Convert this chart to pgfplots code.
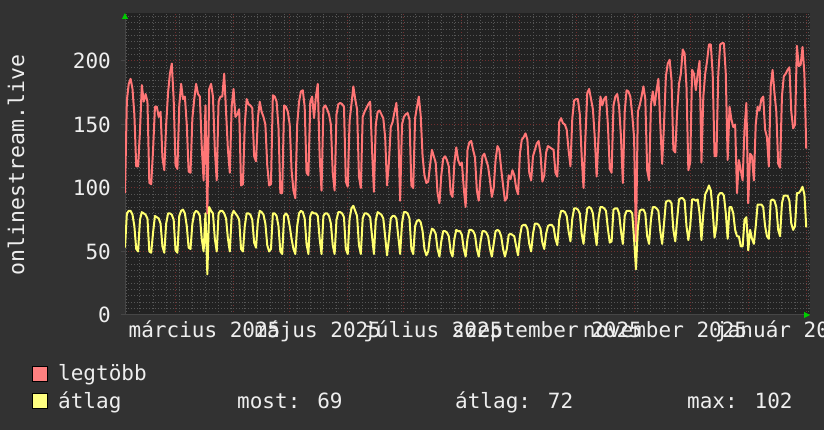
\documentclass[border=0pt]{standalone}
\usepackage{pgfplots}
\pgfplotsset{compat=1.18}
\usepackage{pgfplotstable}
\usepackage{fontspec}
\setmainfont{DejaVu Sans Mono}
\usetikzlibrary{arrows.meta}
\definecolor{bg}{RGB}{50,50,50}
\definecolor{plotbg}{RGB}{34,34,34}
\definecolor{mingrid}{RGB}{86,86,86}
\definecolor{majgrid}{RGB}{112,46,46}
\definecolor{redline}{RGB}{255,118,118}
\definecolor{yelline}{RGB}{255,255,112}
\definecolor{redbox}{RGB}{255,128,128}
\definecolor{yelbox}{RGB}{255,255,128}
\definecolor{txt}{RGB}{238,238,238}
\definecolor{axgray}{RGB}{70,70,70}
\definecolor{arrgreen}{RGB}{0,204,0}

\pgfplotstableread{
d r a
0 96 53
1 169 80
2 182 82
3 186 82
4 178 79
5 158 70
6 117 52
7 117 50
8 145 75
9 181 81
10 168 80
11 174 79
12 168 76
13 104 50
14 103 49
15 130 65
16 164 78
17 164 77
18 156 76
19 160 72
20 124 54
21 114 49
22 150 72
23 175 80
24 190 80
25 198 79
26 170 75
27 118 51
28 115 49
29 165 78
30 182 82
31 170 83
32 172 80
33 150 70
34 113 53
35 112 52
36 155 72
37 170 80
38 182 82
39 174 81
40 172 78
41 133 60
42 106 50
43 165 80
44 80 32
45 178 85
46 182 82
47 172 80
48 130 60
49 106 50
50 168 80
51 172 82
52 172 82
53 190 80
54 160 76
55 130 60
56 112 50
57 164 78
58 178 82
59 156 80
60 158 78
61 162 75
62 102 52
63 103 50
64 150 70
65 170 80
66 166 80
67 165 79
68 163 75
69 125 57
70 121 53
71 155 74
72 168 82
73 160 81
74 156 79
75 150 72
76 118 55
77 102 50
78 103 52
79 173 80
80 172 80
81 168 78
82 148 70
83 96 50
84 96 48
85 165 78
86 164 80
87 160 78
88 150 70
89 114 60
90 98 52
91 92 48
92 150 70
93 168 80
94 176 82
95 177 81
96 164 76
97 112 56
98 110 48
99 168 78
100 172 81
101 155 80
102 172 80
103 182 78
104 125 60
105 98 48
106 163 78
107 165 80
108 162 80
109 158 78
110 150 72
111 112 55
112 98 48
113 158 75
114 166 81
115 167 81
116 166 80
117 164 77
118 105 52
119 101 48
120 153 76
121 166 84
122 180 86
123 170 82
124 162 78
125 109 55
126 100 48
127 156 76
128 160 80
129 163 80
130 166 79
131 168 77
132 130 62
133 97 48
134 150 75
135 160 81
136 161 80
137 158 79
138 155 76
139 140 62
140 102 47
141 120 60
142 148 76
143 152 78
144 160 78
145 167 76
146 145 62
147 90 48
148 150 72
149 156 81
150 158 81
151 159 80
152 154 76
153 102 52
154 100 48
155 155 70
156 164 74
157 172 75
158 157 73
159 125 66
160 110 52
161 104 47
162 105 50
163 118 62
164 130 68
165 125 67
166 120 64
167 96 52
168 88 46
169 110 58
170 123 66
171 125 66
172 122 65
173 117 62
174 96 50
175 93 46
176 120 60
177 132 67
178 122 66
179 118 66
180 120 63
181 100 52
182 85 46
183 130 60
184 136 67
185 137 67
186 130 66
187 124 63
188 98 52
189 90 46
190 110 58
191 125 66
192 127 66
193 122 65
194 117 62
195 106 52
196 93 46
197 100 56
198 122 66
199 133 67
200 130 66
201 115 62
202 102 52
203 90 46
204 92 52
205 110 63
206 107 64
207 114 63
208 110 62
209 100 54
210 95 47
211 127 62
212 138 70
213 140 71
214 143 71
215 138 68
216 112 56
217 106 50
218 125 64
219 130 72
220 135 72
221 137 71
222 127 68
223 105 57
224 110 52
225 128 64
226 133 70
227 132 71
228 131 71
229 130 69
230 112 60
231 109 55
232 152 75
233 155 82
234 151 82
235 150 81
236 146 78
237 130 66
238 117 58
239 155 76
240 169 84
241 170 84
242 170 83
243 158 80
244 125 64
245 100 56
246 140 72
247 175 84
248 178 85
249 170 84
250 162 80
251 140 66
252 109 55
253 140 76
254 172 85
255 165 85
256 170 84
257 172 82
258 150 68
259 115 57
260 112 58
261 165 83
262 172 84
263 174 84
264 164 80
265 140 66
266 104 56
267 160 78
268 177 82
269 176 82
270 172 82
271 158 80
272 140 60
273 58 36
274 160 68
275 165 82
276 172 83
277 180 83
278 170 80
279 114 62
280 106 56
281 165 75
282 176 85
283 165 85
284 177 84
285 186 82
286 150 66
287 119 56
288 150 72
289 188 89
290 198 90
291 201 90
292 185 88
293 130 67
294 128 58
295 160 75
296 182 91
297 190 92
298 209 92
299 206 90
300 180 70
301 114 59
302 120 70
303 193 91
304 190 91
305 177 90
306 190 91
307 200 80
308 120 59
309 172 80
310 190 95
311 200 98
312 213 102
313 213 98
314 190 82
315 125 61
316 125 70
317 190 94
318 213 96
319 214 96
320 214 94
321 190 80
322 122 60
323 164 85
324 154 85
325 148 80
326 150 67
327 96 62
328 122 62
329 114 54
330 106 54
331 146 75
332 167 77
333 88 51
334 127 67
335 125 60
336 106 56
337 150 70
338 164 87
339 161 87
340 170 87
341 172 85
342 146 70
343 140 62
344 117 60
345 180 90
346 193 91
347 175 90
348 160 85
349 119 67
350 116 62
351 172 88
352 188 94
353 190 94
354 193 94
355 195 90
356 160 72
357 147 67
358 150 70
359 212 96
360 196 96
361 197 98
362 211 101
363 190 95
364 131 69
}\datatable

\begin{document}
\begin{tikzpicture}[x=1pt,y=1pt,font=\fontsize{21}{25}\selectfont]
\fill[bg] (0,0) rectangle (824,430);
\useasboundingbox (0,0) rectangle (824,430);
\begin{axis}[
  at={(125pt,115pt)}, anchor=south west,
  scale only axis, width=685pt, height=302pt,
  xmin=0, xmax=366, ymin=0, ymax=237.8,
  axis background/.style={fill=plotbg},
  axis x line=bottom, axis y line=left,
  axis line style={axgray, line width=1pt},
  x axis line style={-{Triangle[length=6pt,width=6pt,color=arrgreen]}},
  y axis line style={-{Triangle[length=6pt,width=6pt,color=arrgreen]}},
  xtick={27,58,88,119,149,180,211,241,272,302,333,364},
  xticklabels={},
  minor xtick={1,8,15,22,29,36,43,50,57,64,71,78,85,92,99,106,113,120,127,134,141,148,155,162,169,176,183,190,197,204,211,218,225,232,239,246,253,260,267,274,281,288,295,302,309,316,323,330,337,344,351,358,365},
  ytick={0,50,100,150,200},
  minor ytick={5,10,15,20,25,30,35,40,45,55,60,65,70,75,80,85,90,95,105,110,115,120,125,130,135,140,145,155,160,165,170,175,180,185,190,195,205,210,215,220,225,230,235},
  grid=both,
  major grid style={majgrid, dash pattern=on 1pt off 2pt, line width=1pt},
  minor grid style={mingrid, dash pattern=on 1pt off 2pt, line width=1pt},
  xtick style={draw=none},
  ytick style={axgray, line width=1pt},
  minor tick length=0pt,
  major tick length=4pt,
  tick align=outside,
  /pgf/number format/assume math mode=true,
  tick label style={font=\fontsize{21}{25}\selectfont, color=txt},
  yticklabel style={anchor=east, inner sep=0pt, xshift=-10pt},
  extra x ticks={42.5,103,164.5,225.5,288.5,352.5},
  extra x tick labels={március 2025,május 2025,július 2025,szeptember 2025,november 2025,január 2026},
  extra x tick style={grid=none, major tick length=0pt,
     tick label style={anchor=base, inner sep=0pt, yshift=-23pt}},
]
\addplot[redline, line width=2pt, line join=round] table[x=d, y=r] {\datatable};
\addplot[yelline, line width=2pt, line join=round] table[x=d, y=a] {\datatable};
\end{axis}
\node[rotate=90, txt, inner sep=0pt, font=\fontsize{21.5}{25}\selectfont] at (16,265) {onlinestream.live};
\filldraw[fill=redbox, draw=black, line width=1pt] (32.5,48.5) rectangle (47,63.5);
\filldraw[fill=yelbox, draw=black, line width=1pt] (32.5,21) rectangle (47,36);
\node[txt, anchor=base west, inner sep=0pt] at (58,49.3) {legtöbb};
\node[txt, anchor=base west, inner sep=0pt] at (58,21.7) {átlag};
\node[txt, anchor=base west, inner sep=0pt] at (237,21.7) {most: 69};
\node[txt, anchor=base west, inner sep=0pt] at (455,21.7) {átlag: 72};
\node[txt, anchor=base west, inner sep=0pt] at (687,21.7) {max: 102};
\end{tikzpicture}
\end{document}
